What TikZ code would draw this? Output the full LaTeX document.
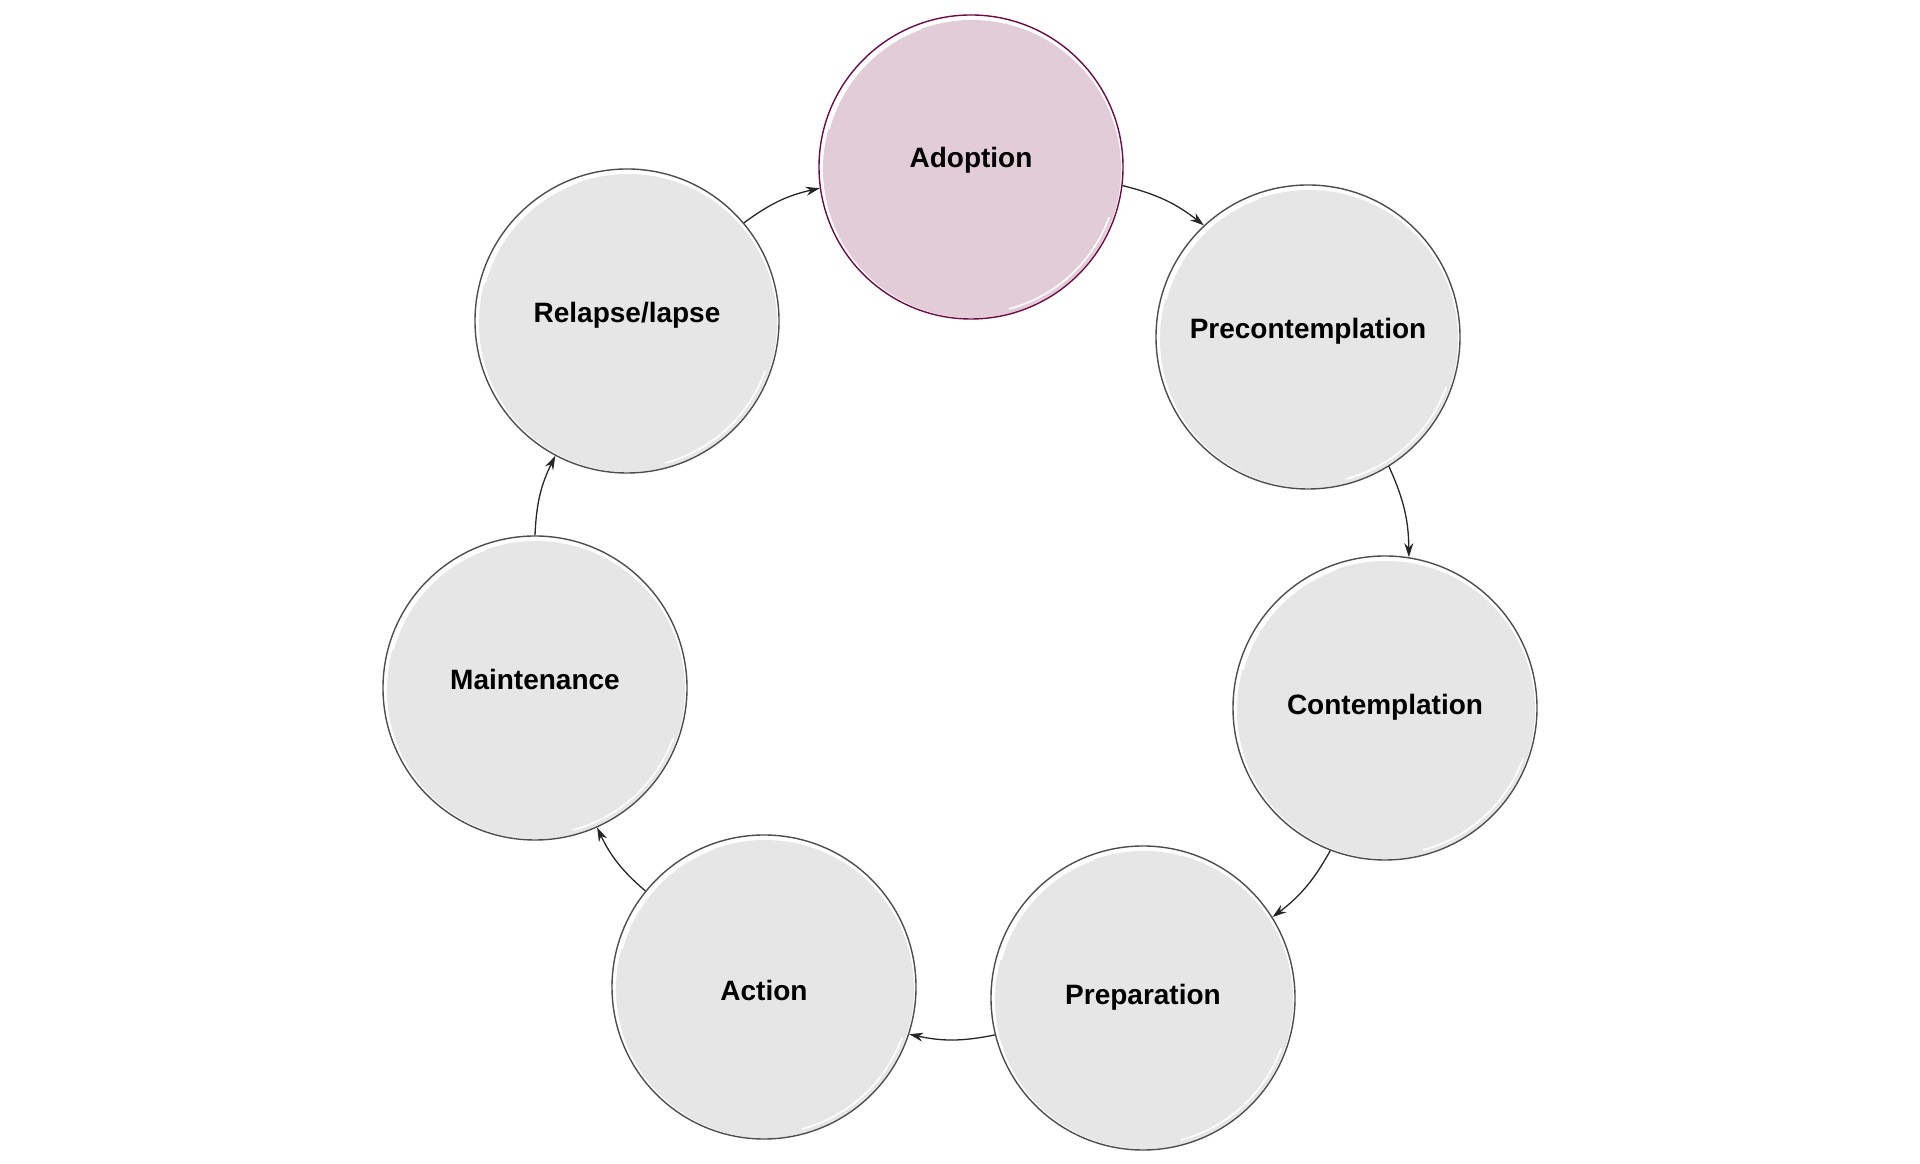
\documentclass[tikz,border=0pt]{standalone}
\usepackage{fontspec}
\setmainfont{Liberation Sans}
\usetikzlibrary{arrows.meta}
\definecolor{stagefill}{HTML}{E6E6E6}
\definecolor{stageline}{HTML}{4D4D4D}
\definecolor{adoptfill}{HTML}{E2CCD8}
\definecolor{adoptline}{HTML}{6E0A45}
\begin{document}
\begin{tikzpicture}[x=1pt,y=1pt,
 stage/.style={circle, draw=stageline, line width=1.4pt, minimum size=304pt, inner sep=0pt},
 adopt/.style={stage, draw=adoptline},
 lbl/.style={anchor=base, font=\fontsize{28}{34}\selectfont\bfseries},
 gloss/.style={white, line width=1.6pt},
 flow/.style={-{Stealth[length=14pt,width=9pt]}, line width=1.3pt, draw=black!85, bend left=12}]
\useasboundingbox (0,0) rectangle (1920,1164);
% fills (slightly offset, sketchy look)
\fill[adoptfill] (972,995) circle (149);
\fill[stagefill] (1309,825) circle (149);
\fill[stagefill] (1386,454) circle (149);
\fill[stagefill] (1144,164) circle (149);
\fill[stagefill] (765,175) circle (149);
\fill[stagefill] (536,474) circle (149);
\fill[stagefill] (628,841) circle (149);
% white gloss strokes
\foreach \cx/\cy in {971/997,1308/827,1385/456,1143/166,764/177,535/476,627/843}{
  \draw[gloss] (\cx,\cy) ++(110:147) arc (110:165:147);
  \draw[gloss] (\cx,\cy) ++(-75:147) arc (-75:-20:147);
}
% circles
\node[adopt] (A) at (971,997) {};
\node[stage] (P) at (1308,827) {};
\node[stage] (C) at (1385,456) {};
\node[stage] (R) at (1143,166) {};
\node[stage] (X) at (764,177) {};
\node[stage] (M) at (535,476) {};
\node[stage] (L) at (627,843) {};
% labels
\node[lbl] (tA) at (971,996) {Adoption};
\node[lbl] (tP) at (1308,825) {Precontemplation};
\node[lbl] (tC) at (1385,449) {Contemplation};
\node[lbl] (tR) at (1143,159) {Preparation};
\node[lbl] (tX) at (764,163) {Action};
\node[lbl] (tM) at (535,474) {Maintenance};
\node[lbl] (tL) at (627,841) {Relapse/lapse};
% connectors
\draw[flow] (A.-7) to (P.133);
\draw[flow] (P.-58) to (C.81);
\draw[flow] (C.-111) to (R.32);
\draw[flow] (R.194) to (X.-18);
\draw[flow] (X.141) to (M.-66);
\draw[flow] (M.90) to (L.-118);
\draw[flow] (L.40) to (A.188);
\end{tikzpicture}
\end{document}
